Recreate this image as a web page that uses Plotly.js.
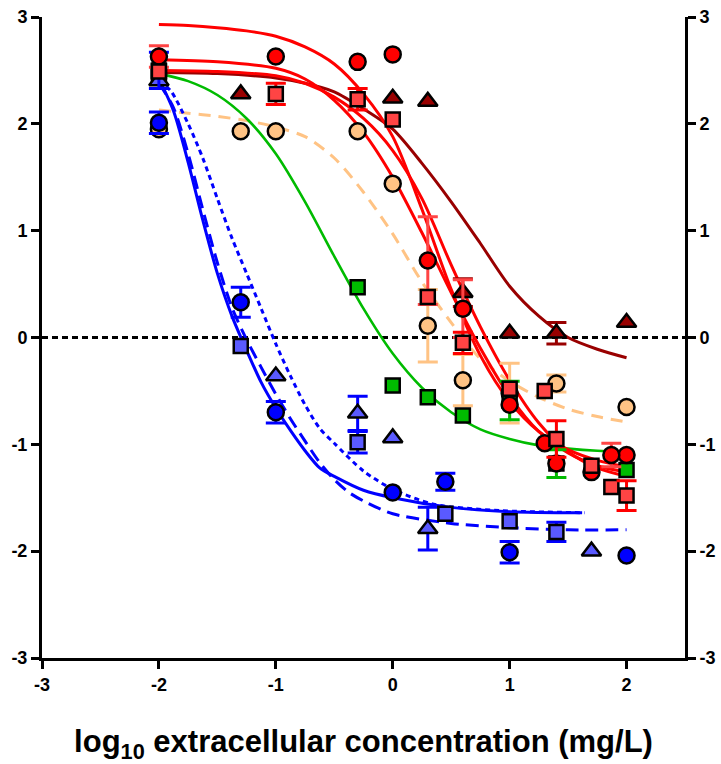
<!DOCTYPE html>
<html>
<head>
<meta charset="utf-8">
<script src="https://cdn.plot.ly/plotly-3.0.1.min.js"></script>
<style>html,body{margin:0;padding:0;background:#fff;}#chart{width:721px;height:764px;}</style>
</head>
<body>
<div id="chart"></div>
<script>
// ---- data ----
const tickVals = [-3, -2, -1, 0, 1, 2];
const tickText = ['-3', '-2', '-1', '0', '1', '2'];
const yTickVals = [-3, -2, -1, 0, 1, 2, 3];
const yTickText = ['-3', '-2', '-1', '0', '1', '2', '3'];
const xTitle = 'log<sub>10</sub> extracellular concentration (mg/L)';

// fitted curves
const curveRed1X = [-2, -1.75, -1.5, -1.25, -1, -0.75, -0.5, -0.25, 0, 0.25, 0.5, 0.75, 1, 1.25, 1.5, 1.75, 2];
const curveRed1Y = [2.93, 2.92, 2.9, 2.87, 2.82, 2.72, 2.56, 2.28, 1.88, 1.2, 0.45, -0.17, -0.6, -0.88, -1.05, -1.15, -1.21];
const curveRed2X = [-2, -1.5, -1, -0.75, -0.5, -0.25, 0, 0.25, 0.5, 0.75, 1, 1.25, 1.5, 1.75, 2];
const curveRed2Y = [2.6, 2.58, 2.52, 2.42, 2.22, 1.92, 1.5, 0.98, 0.42, -0.1, -0.55, -0.88, -1.08, -1.2, -1.26];
const curveRed3X = [-2, -1.5, -1, -0.75, -0.5, -0.25, 0, 0.25, 0.5, 0.75, 1, 1.25, 1.5, 1.75, 2];
const curveRed3Y = [2.5, 2.49, 2.45, 2.38, 2.25, 2.05, 1.75, 1.3, 0.68, 0.1, -0.4, -0.8, -1.07, -1.22, -1.3];
const curveDarkX = [-2, -1.5, -1, -0.75, -0.5, -0.25, 0, 0.25, 0.5, 0.75, 1, 1.25, 1.5, 1.75, 2];
const curveDarkY = [2.48, 2.47, 2.43, 2.38, 2.3, 2.14, 1.95, 1.63, 1.27, 0.88, 0.48, 0.2, 0.0, -0.11, -0.19];
const curveOrangeX = [-2, -1.75, -1.5, -1.25, -1, -0.75, -0.5, -0.25, 0, 0.25, 0.5, 0.75, 1, 1.25, 1.5, 1.75, 2];
const curveOrangeY = [2.13, 2.1, 2.07, 2.03, 1.97, 1.88, 1.68, 1.36, 0.97, 0.52, 0.14, -0.2, -0.41, -0.56, -0.67, -0.74, -0.79];
const curveGreenX = [-2, -1.75, -1.5, -1.25, -1, -0.75, -0.5, -0.25, 0, 0.25, 0.5, 0.75, 1, 1.25, 1.5, 1.75, 2];
const curveGreenY = [2.47, 2.4, 2.27, 2.05, 1.72, 1.27, 0.76, 0.27, -0.15, -0.47, -0.7, -0.86, -0.95, -1.01, -1.04, -1.06, -1.07];
const curveBlueX = [-2, -1.875, -1.75, -1.625, -1.5, -1.375, -1.25, -1.125, -1, -0.875, -0.75, -0.625, -0.5, -0.25, 0, 0.5, 1, 1.62];
const curveBlueY = [2.42, 2.12, 1.64, 1.1, 0.6, 0.2, -0.12, -0.42, -0.66, -0.87, -1.06, -1.22, -1.3, -1.43, -1.5, -1.59, -1.63, -1.64];
const curveBlueDashX = [-2, -1.875, -1.75, -1.625, -1.5, -1.375, -1.25, -1.125, -1, -0.875, -0.75, -0.625, -0.5, -0.375, -0.25, 0, 0.5, 1, 1.5, 2];
const curveBlueDashY = [2.38, 2.15, 1.72, 1.2, 0.7, 0.28, -0.02, -0.28, -0.53, -0.76, -0.97, -1.17, -1.33, -1.45, -1.53, -1.65, -1.74, -1.78, -1.8, -1.8];
const curveBlueDotX = [-2, -1.9, -1.75, -1.625, -1.5, -1.375, -1.25, -1.125, -1, -0.875, -0.75, -0.625, -0.5, -0.25, 0, 0.35, 0.92, 1.64];
const curveBlueDotY = [2.4, 2.31, 2.0, 1.68, 1.3, 0.93, 0.6, 0.27, -0.06, -0.36, -0.63, -0.85, -0.99, -1.25, -1.42, -1.56, -1.62, -1.64];

// measured points (null = no error bar)
const redCircX = [-2, -1, -0.3, 0, 0.3, 0.6, 1, 1.3, 1.4, 1.7, 1.87, 2];
const redCircY = [2.63, 2.63, 2.58, 2.65, 0.72, 0.27, -0.63, -0.99, -1.18, -1.26, -1.10, -1.10];
const redCircE = [0.1, null, null, null, 0.41, 0.27, null, null, null, null, 0.11, null];

const redSqX = [-2, -1, -0.3, 0, 0.3, 0.6, 1, 1.3, 1.4, 1.7, 1.87, 2];
const redSqY = [2.49, 2.28, 2.23, 2.04, 0.38, -0.05, -0.48, -0.5, -0.95, -1.2, -1.4, -1.48];
const redSqE = [null, 0.1, 0.1, null, null, 0.1, null, null, 0.17, null, null, 0.14];

const darkTriX = [-1.3, 0, 0.3, 0.6, 1, 1.4, 2];
const darkTriY = [2.28, 2.24, 2.21, 0.42, 0.04, 0.04, 0.14];
const darkTriE = [null, null, null, 0.13, null, 0.1, null];

const orangeX = [-2, -1.3, -1, -0.3, 0, 0.3, 0.6, 1, 1.4, 2];
const orangeY = [1.95, 1.93, 1.93, 1.93, 1.44, 0.11, -0.40, -0.52, -0.43, -0.65];
const orangeE = [null, null, null, null, null, 0.34, 0.24, 0.28, 0.08, null];

const greenX = [-2, -0.3, 0, 0.3, 0.6, 1, 1.4, 2];
const greenY = [2.45, 0.47, -0.45, -0.56, -0.73, -0.59, -1.18, -1.24];
const greenE = [null, null, null, null, null, 0.18, 0.13, null];

const blueCircX = [-2, -1.3, -1, 0, 0.45, 1, 2];
const blueCircY = [2.01, 0.33, -0.70, -1.45, -1.35, -2.01, -2.04];
const blueCircE = [0.1, 0.14, 0.1, null, 0.08, 0.1, null];

const blueSqX = [-2, -1.3, -0.3, 0.45, 1, 1.4];
const blueSqY = [2.5, -0.08, -0.98, -1.65, -1.72, -1.82];
const blueSqE = [0.17, null, 0.1, null, null, 0.09];

const blueTriX = [-2, -1, -0.3, 0, 0.3, 1.7];
const blueTriY = [2.4, -0.36, -0.71, -0.94, -1.79, -2.0];
const blueTriE = [null, null, 0.16, null, 0.2, null];

// ---- styles ----
function curve(x, y, color, width, dash) {
  return {x: x, y: y, type: 'scatter', mode: 'lines', hoverinfo: 'skip', showlegend: false,
    line: {color: color, width: width, dash: dash || 'solid', shape: 'spline', smoothing: 0.8}};
}
// one series -> two traces: the points with error bars, and the points without
function pts(x, y, e, symbol, size, fill, ecolor) {
  const withE = {x: [], y: [], e: []}, noE = {x: [], y: []};
  for (let i = 0; i < x.length; i++) {
    if (e[i] != null) { withE.x.push(x[i]); withE.y.push(y[i]); withE.e.push(e[i]); }
    else { noE.x.push(x[i]); noE.y.push(y[i]); }
  }
  const marker = {symbol: symbol, size: size, color: fill, line: {color: '#000', width: 2.5}};
  return [
    {x: noE.x, y: noE.y, type: 'scatter', mode: 'markers', showlegend: false, marker: marker},
    {x: withE.x, y: withE.y, type: 'scatter', mode: 'markers', showlegend: false, marker: marker,
      error_y: {type: 'data', array: withE.e, visible: true, color: ecolor, thickness: 3, width: 10}}
  ];
}

const traces = [
  curve(curveOrangeX, curveOrangeY, '#FFC384', 3, '12px,8px'),
  curve(curveGreenX, curveGreenY, '#00BB00', 2.6),
  curve(curveDarkX, curveDarkY, '#990000', 3),
  curve(curveRed1X, curveRed1Y, '#FF0000', 3),
  curve(curveRed2X, curveRed2Y, '#FF0000', 3),
  curve(curveRed3X, curveRed3Y, '#FF0000', 3),
  curve(curveBlueX, curveBlueY, '#0000FF', 3),
  curve(curveBlueDashX, curveBlueDashY, '#0000FF', 3, '13px,7px'),
  curve(curveBlueDotX, curveBlueDotY, '#0000FF', 3, '5px,4px')
].concat(
  pts(orangeX, orangeY, orangeE, 'circle', 16, '#FFC384', '#FFC384'),
  pts(greenX, greenY, greenE, 'square', 14, '#00BB00', '#00BB00'),
  pts(blueTriX, blueTriY, blueTriE, 'triangle-up', 17, '#5A5AFF', '#0000FF'),
  pts(blueSqX, blueSqY, blueSqE, 'square', 14, '#5A5AFF', '#0000FF'),
  pts(blueCircX, blueCircY, blueCircE, 'circle', 16, '#0000FF', '#0000FF'),
  pts(darkTriX, darkTriY, darkTriE, 'triangle-up', 17, '#990000', '#990000'),
  pts(redCircX, redCircY, redCircE, 'circle', 16, '#FF0000', '#FF4444'),
  pts(redSqX, redSqY, redSqE, 'square', 14, '#FF4444', '#FF0000')
);

const font = {family: 'Liberation Sans, Arial, sans-serif', size: 18, color: '#000', weight: 'bold'};
const yBase = {
  range: [-3, 3], tickvals: yTickVals, ticktext: yTickText, showgrid: false, zeroline: false,
  showline: true, linewidth: 3, linecolor: '#000', ticks: 'outside', ticklen: 8, tickwidth: 3,
  tickcolor: '#000', tickfont: font, fixedrange: true
};

const layout = {
  width: 721, height: 764,
  margin: {l: 42, r: 36, t: 17, b: 106},
  paper_bgcolor: '#fff', plot_bgcolor: '#fff',
  showlegend: false,
  xaxis: {
    range: [-3, 2.5], tickvals: tickVals, ticktext: tickText, showgrid: false, zeroline: false,
    showline: true, linewidth: 3, linecolor: '#000', ticks: 'outside', ticklen: 8, tickwidth: 3,
    tickcolor: '#000', tickfont: font, automargin: false,
    title: {text: xTitle, font: {family: 'Liberation Sans, Arial, sans-serif', size: 31, color: '#000', weight: 'bold'}, standoff: 39}
  },
  yaxis: Object.assign({}, yBase, {side: 'left', automargin: false}),
  yaxis2: Object.assign({}, yBase, {side: 'right', overlaying: 'y', anchor: 'x', automargin: false}),
  shapes: [{type: 'line', xref: 'x', yref: 'y', x0: -3, x1: 2.5, y0: 0, y1: 0,
    line: {color: '#000', width: 3, dash: '6px,4px'}, layer: 'below'}]
};

// an empty trace on the right-hand axis so that it is drawn
traces.push({x: [], y: [], yaxis: 'y2', type: 'scatter', mode: 'markers', showlegend: false});

Plotly.newPlot('chart', traces, layout, {displayModeBar: false, staticPlot: true});
</script>
</body>
</html>
